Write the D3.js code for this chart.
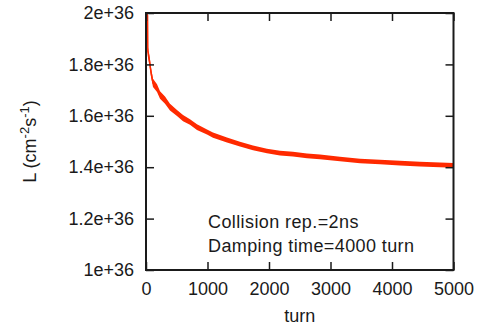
<!DOCTYPE html>
<html>
<head>
<meta charset="utf-8">
<script src="https://cdn.jsdelivr.net/npm/d3@7"></script>
<style>
  body { margin: 0; background: #fff; }
  svg text { font-family: "Liberation Sans", Arial, Helvetica, sans-serif; fill: #1a1a1a; }
</style>
</head>
<body>
<svg id="graph" width="478" height="326"></svg>
<script>
    // luminosity vs turn (L in units of 1e36)
    var turns = [0, 25, 30, 55, 81, 114, 179, 228, 309, 390, 504, 602, 715, 829, 992, 1089,
                 1317, 1528, 1740, 1967, 2179, 2390, 2618, 2829, 3154, 3480, 3805, 4130, 4455, 4780, 5000];
    var lumi = [2.0, 1.99, 1.850, 1.817, 1.770, 1.728, 1.708, 1.681, 1.661, 1.634, 1.611, 1.591, 1.576, 1.556, 1.537, 1.525,
                1.506, 1.490, 1.475, 1.463, 1.455, 1.451, 1.444, 1.440, 1.432, 1.424, 1.420, 1.416, 1.412, 1.409, 1.407];
    // half width of the noisy band
    var spread = [0.0, 0.005, 0.02, 0.02, 0.018, 0.016, 0.015, 0.015, 0.014, 0.013, 0.012, 0.012, 0.011, 0.011, 0.010, 0.010,
                  0.010, 0.009, 0.009, 0.009, 0.009, 0.009, 0.009, 0.009, 0.009, 0.009, 0.009, 0.009, 0.009, 0.009, 0.009];

    var xTicks = [0, 1000, 2000, 3000, 4000, 5000];
    var yTicks = [1.0, 1.2, 1.4, 1.6, 1.8, 2.0];
    var yTickLabels = ["1e+36", "1.2e+36", "1.4e+36", "1.6e+36", "1.8e+36", "2e+36"];
    var notes = ["Collision rep.=2ns", "Damping time=4000 turn"];

    var svg = d3.select("#graph");
    var plotLeft = 146, plotRight = 453.5, plotTop = 13, plotBottom = 270;
    var fontSize = 18;

    var x = d3.scaleLinear().domain([0, 5000]).range([plotLeft, plotRight]);
    var y = d3.scaleLinear().domain([1.0, 2.0]).range([plotBottom, plotTop]);

    var data = turns.map(function(t, i) {
      return { t: t, l: lumi[i], s: spread[i] };
    });

    var red = "#ff2a00";

    svg.append("path")
      .datum(data)
      .attr("fill", red)
      .attr("d", d3.area()
        .x(function(d) { return x(d.t); })
        .y0(function(d) { return y(d.l - d.s); })
        .y1(function(d) { return y(d.l + d.s); }));

    svg.append("path")
      .datum(data)
      .attr("fill", "none")
      .attr("stroke", red)
      .attr("stroke-width", 1.5)
      .attr("d", d3.line()
        .x(function(d) { return x(d.t); })
        .y(function(d) { return y(d.l); }));

    var tickLen = 8;
    var axisColor = "#1a1a1a";

    // axes with inward ticks, mirrored on top and right
    svg.append("g")
      .attr("transform", "translate(0," + plotBottom + ")")
      .call(d3.axisBottom(x).tickValues(xTicks).tickSize(-tickLen).tickPadding(12).tickFormat(d3.format("d")))
      .call(styleAxis);
    svg.append("g")
      .attr("transform", "translate(0," + plotTop + ")")
      .call(d3.axisTop(x).tickValues(xTicks).tickSize(-tickLen).tickFormat(""))
      .call(styleAxis);
    svg.append("g")
      .attr("transform", "translate(" + plotLeft + ",0)")
      .call(d3.axisLeft(y).tickValues(yTicks).tickSize(-tickLen).tickPadding(12)
        .tickFormat(function(d, i) { return yTickLabels[i]; }))
      .call(styleAxis);
    svg.append("g")
      .attr("transform", "translate(" + plotRight + ",0)")
      .call(d3.axisRight(y).tickValues(yTicks).tickSize(-tickLen).tickFormat(""))
      .call(styleAxis);

    function styleAxis(g) {
      g.select(".domain").remove();
      g.selectAll(".tick line").attr("stroke", axisColor).attr("stroke-width", 1.5);
      g.selectAll(".tick text").attr("font-size", fontSize).attr("fill", axisColor)
        .attr("font-family", "Liberation Sans, Arial, sans-serif");
    }

    svg.append("rect")
      .attr("x", plotLeft).attr("y", plotTop)
      .attr("width", plotRight - plotLeft).attr("height", plotBottom - plotTop)
      .attr("fill", "none")
      .attr("stroke", axisColor)
      .attr("stroke-width", 2);

    svg.append("text")
      .attr("x", (plotLeft + plotRight) / 2)
      .attr("y", 322)
      .attr("text-anchor", "middle")
      .attr("font-size", fontSize)
      .text("turn");

    var ylab = svg.append("text")
      .attr("transform", "translate(36," + (plotTop + plotBottom) / 2 + ") rotate(-90)")
      .attr("text-anchor", "middle")
      .attr("font-size", fontSize);
    ylab.append("tspan").text("L (cm");
    ylab.append("tspan").attr("dy", -7).attr("font-size", 13).text("-2");
    ylab.append("tspan").attr("dy", 7).text("s");
    ylab.append("tspan").attr("dy", -7).attr("font-size", 13).text("-1");
    ylab.append("tspan").attr("dy", 7).text(")");

    svg.selectAll(".note")
      .data(notes)
      .enter().append("text")
      .attr("class", "note")
      .attr("x", 208)
      .attr("y", function(d, i) { return 227.5 + i * 24; })
      .attr("font-size", fontSize)
      .attr("letter-spacing", 0.4)
      .text(function(d) { return d; });
</script>
</body>
</html>
